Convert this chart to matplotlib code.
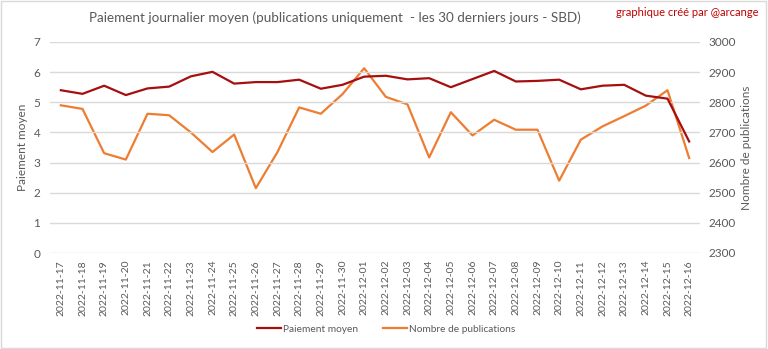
import matplotlib.pyplot as plt

dates = ["2022-11-17", "2022-11-18", "2022-11-19", "2022-11-20", "2022-11-21",
         "2022-11-22", "2022-11-23", "2022-11-24", "2022-11-25", "2022-11-26",
         "2022-11-27", "2022-11-28", "2022-11-29", "2022-11-30", "2022-12-01",
         "2022-12-02", "2022-12-03", "2022-12-04", "2022-12-05", "2022-12-06",
         "2022-12-07", "2022-12-08", "2022-12-09", "2022-12-10", "2022-12-11",
         "2022-12-12", "2022-12-13", "2022-12-14", "2022-12-15", "2022-12-16"]

paiement = [5.40, 5.28, 5.55, 5.24, 5.46, 5.52, 5.86, 6.01, 5.62, 5.67,
            5.67, 5.75, 5.45, 5.58, 5.85, 5.88, 5.76, 5.80, 5.50, 5.77,
            6.04, 5.69, 5.71, 5.75, 5.43, 5.55, 5.58, 5.22, 5.12, 3.70]

publications = [2790, 2778, 2631, 2610, 2762, 2757, 2700, 2635, 2693, 2515,
                2635, 2783, 2762, 2827, 2913, 2818, 2793, 2617, 2767, 2690,
                2742, 2709, 2709, 2540, 2676, 2720, 2754, 2789, 2840, 2615]

RED = "#A50F0F"
ORANGE = "#ED7D31"
GRAY = "#595959"
GRID = "#D9D9D9"

plt.rcParams["font.family"] = ["Lato", "DejaVu Sans"]

fig = plt.figure(figsize=(7.68, 3.49), dpi=100)
ax = fig.add_axes([50 / 768, 96 / 349, 650 / 768, 211 / 349])
ax2 = ax.twinx()

x = list(range(len(dates)))
l1, = ax.plot(x, paiement, color=RED, lw=1.6, label="Paiement moyen", zorder=3)
l2, = ax2.plot(x, publications, color=ORANGE, lw=1.6, label="Nombre de publications", zorder=2)
ax.set_zorder(ax2.get_zorder() + 1)
ax.patch.set_visible(False)

ax.set_xlim(-0.5, len(dates) - 0.5)
ax.set_ylim(0, 7)
ax.set_yticks(range(0, 8))
ax2.set_ylim(2300, 3000)
ax2.set_yticks(range(2300, 3001, 100))
ax.grid(axis="y", color=GRID, lw=1)
ax.set_xticks(x)
ax.set_xticklabels(dates, rotation=90, fontsize=7.5, color=GRAY)

for a in (ax, ax2):
    for s in a.spines.values():
        s.set_visible(False)
    a.tick_params(length=0, colors=GRAY, labelsize=8.5)
ax.tick_params(axis="y", pad=7)
ax2.tick_params(axis="y", pad=6)
ax.tick_params(axis="x", pad=5, labelsize=7.5)

ax.set_ylabel("Paiement moyen", color=GRAY, fontsize=8.5)
ax2.set_ylabel("Nombre de publications", color=GRAY, fontsize=8.5)
ax.yaxis.set_label_coords(-0.034, 0.5)
ax2.yaxis.set_label_coords(1.063, 0.5)

fig.text(335 / 768, 1 - 18 / 349, "Paiement journalier moyen (publications uniquement  - les 30 derniers jours - SBD)",
         ha="center", va="center", fontsize=9.7, color=GRAY)
fig.text(758 / 768, 1 - 13 / 349, "graphique créé par @arcange", ha="right", va="center",
         fontsize=8, color="#C00000")

fig.legend(handles=[l1, l2], loc="center", bbox_to_anchor=(386 / 768, 1 - 329 / 349),
           ncol=2, frameon=False, fontsize=7.3, labelcolor=GRAY, handlelength=2.4,
           columnspacing=2.4, handletextpad=0.2)

fig.patches.append(plt.Rectangle((0.001, 0.002), 0.997, 0.995, transform=fig.transFigure,
                                 fill=False, edgecolor="#D9D9D9", lw=1))

fig.savefig("out.png", dpi=100)
